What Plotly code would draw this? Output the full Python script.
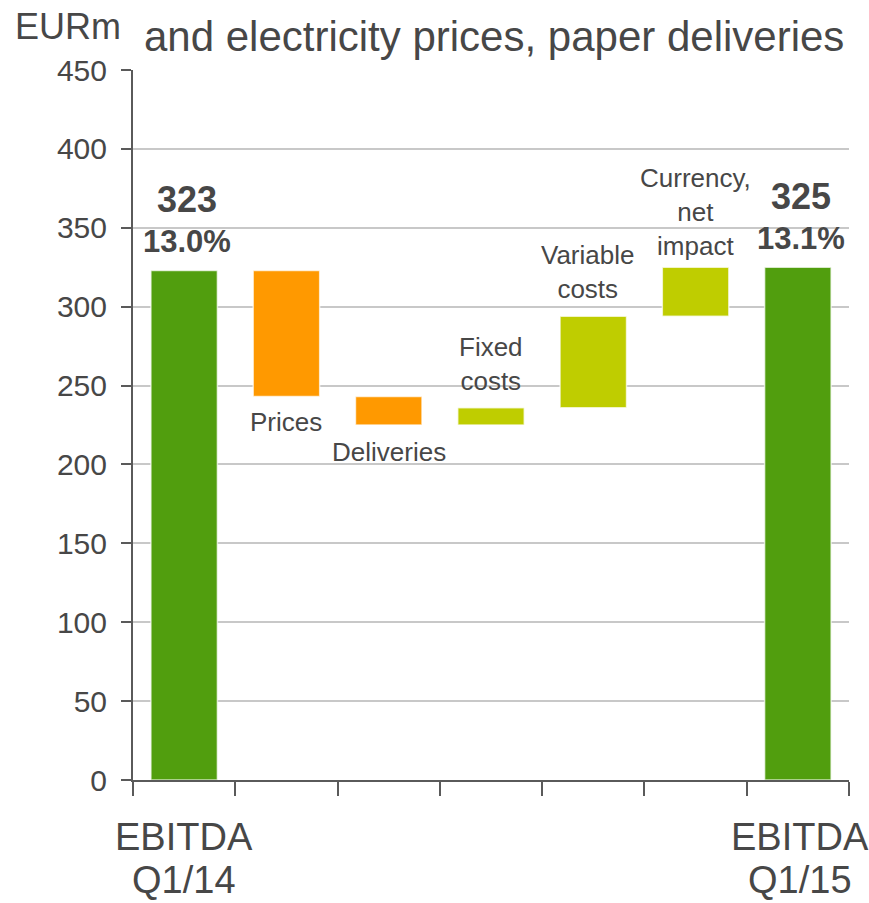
import plotly.graph_objects as go

# EBITDA bridge Q1/14 -> Q1/15 (EUR million)
categories = ["EBITDA Q1/14", "Prices", "Deliveries", "Fixed costs",
              "Variable costs", "Currency, net impact", "EBITDA Q1/15"]
start_value = 323
changes = [-80, -18, 11, 58, 31]
end_value = 325
bar_labels = ["", "Prices", "Deliveries", "Fixed<br>costs", "Variable<br>costs",
              "Currency,<br>net<br>impact", ""]
margin_labels = {"EBITDA Q1/14": ("323", "13.0%"), "EBITDA Q1/15": ("325", "13.1%")}
axis_labels = {"EBITDA Q1/14": ("EBITDA", "Q1/14"), "EBITDA Q1/15": ("EBITDA", "Q1/15")}
y_ticks = [0, 50, 100, 150, 200, 250, 300, 350, 400, 450]

GREEN = "#519E0E"
ORANGE = "#FF9900"
LIME = "#BFCD00"
TEXT = "#474747"
AXIS = "#5a5a5a"
FONT = "Liberation Sans, Arial, sans-serif"

# running totals -> floating bars
bases, heights, colors = [0], [start_value], [GREEN]
level = start_value
for d in changes:
    lo, hi = (level + d, level) if d < 0 else (level, level + d)
    bases.append(lo)
    heights.append(hi - lo)
    colors.append(ORANGE if d < 0 else LIME)
    level += d
bases.append(0)
heights.append(end_value)
colors.append(GREEN)

fig = go.Figure(go.Bar(
    x=categories, y=heights, base=bases, width=0.65,
    marker=dict(color=colors, line=dict(color="rgba(255,255,255,0.7)", width=1.5)),
    hoverinfo="skip", showlegend=False,
))

annotations = []
for i, cat in enumerate(categories):
    top = bases[i] + heights[i]
    bottom = bases[i]
    lab = bar_labels[i]
    if not lab:
        continue
    if i in (1, 2):  # decreases: label under the bar
        shift = -25 if i == 1 else -27
        annotations.append(dict(x=cat, y=bottom, text=lab, showarrow=False,
                                yanchor="middle", yshift=shift,
                                font=dict(size=26, color=TEXT, family=FONT)))
    else:
        n_lines = lab.count("<br>") + 1
        shift = 44 if n_lines == 2 else 55
        annotations.append(dict(x=cat, y=top, text=lab, showarrow=False,
                                yanchor="middle", yshift=shift,
                                xshift=-6 if i == 4 else 0,
                                font=dict(size=26, color=TEXT, family=FONT)))

for cat, (val, pct) in margin_labels.items():
    top = start_value if cat == categories[0] else end_value
    annotations.append(dict(x=cat, y=top, text=f"<b>{val}</b>", showarrow=False,
                            yanchor="middle", yshift=71, xshift=3,
                            font=dict(size=36, color=TEXT, family=FONT)))
    annotations.append(dict(x=cat, y=top, text=f"<b>{pct}</b>", showarrow=False,
                            yanchor="middle", yshift=29, xshift=3,
                            font=dict(size=31, color=TEXT, family=FONT)))

# category names under the end bars
for cat, (l1, l2) in axis_labels.items():
    for txt, shift in ((l1, -57), (l2, -100)):
        annotations.append(dict(x=cat, xref="x", yref="paper", y=0, text=txt,
                                showarrow=False, yanchor="middle", yshift=shift,
                                xshift=2 if cat == categories[-1] else 0,
                                font=dict(size=38, color=TEXT, family=FONT)))

# unit label and heading
annotations.append(dict(xref="paper", yref="paper", x=-0.168, y=1.0, xanchor="left",
                        yanchor="middle", yshift=44, text="EURm", showarrow=False,
                        font=dict(size=36, color=TEXT, family=FONT)))
annotations.append(dict(xref="paper", yref="paper", x=0.504, y=1.0, xanchor="center",
                        yanchor="middle", yshift=34, showarrow=False,
                        text="and electricity prices, paper deliveries",
                        font=dict(size=42, color=TEXT, family=FONT)))

fig.update_layout(
    width=869, height=903,
    margin=dict(l=133, r=20, t=70, b=123, autoexpand=False),
    paper_bgcolor="white", plot_bgcolor="white",
    bargap=0.35,
    annotations=annotations,
    font=dict(family=FONT, color=TEXT),
)
fig.update_xaxes(
    type="category", categoryorder="array", categoryarray=categories,
    range=[-0.5, len(categories) - 0.5],
    tickson="boundaries", showticklabels=False, automargin=False,
    ticks="outside", ticklen=14, tickwidth=2, tickcolor=AXIS,
    showline=True, linecolor=AXIS, linewidth=2, showgrid=False,
)
fig.update_yaxes(
    range=[0, 450], tickvals=y_ticks, ticks="outside", ticklen=10, tickwidth=2,
    tickcolor=AXIS, showline=True, linecolor=AXIS, linewidth=2, automargin=False,
    showgrid=True, gridcolor="#c8c8c8", gridwidth=2, zeroline=False,
    tickfont=dict(size=30, color=TEXT, family=FONT), ticklabelstandoff=8,
)

fig.write_html("out.html")
